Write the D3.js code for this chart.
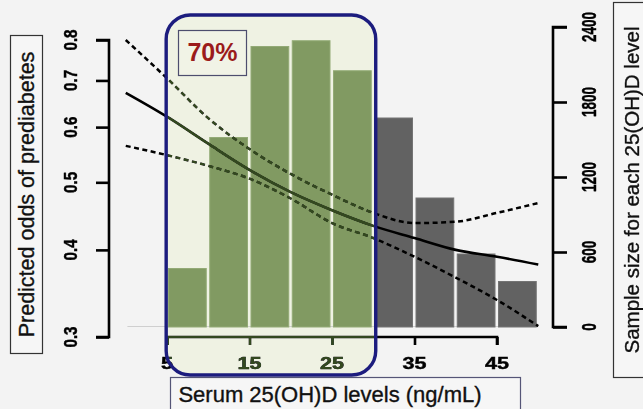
<!DOCTYPE html>
<html>
<head>
<meta charset="utf-8">
<script src="https://cdn.jsdelivr.net/npm/d3@7/dist/d3.min.js"></script>
<style>
  html, body { margin: 0; padding: 0; background: #f3f3f3; }
  svg { display: block; }
  text { font-family: "Liberation Sans", Arial, Helvetica, sans-serif; }
</style>
</head>
<body>
<svg id="chart" width="643" height="409"></svg>
<script>
// ---- data ----
const binStarts = [5, 10, 15, 20, 25, 30, 35, 40, 45];
const binWidth = 5;
const sampleSizes = [468, 1516, 2244, 2290, 2050, 1672, 1032, 584, 364];
const highlighted = [true, true, true, true, true, false, false, false, false];

const curveX = [0, 5, 10, 15, 20, 25, 30, 35, 40, 45, 50];
const fitOdds = [0.672, 0.621, 0.568, 0.521, 0.484, 0.456, 0.433, 0.416, 0.400, 0.391, 0.381];
const upperCI = [0.800, 0.705, 0.618, 0.558, 0.514, 0.480, 0.452, 0.437, 0.439, 0.452, 0.467];
const lowerCI = [0.564, 0.547, 0.528, 0.506, 0.474, 0.437, 0.416, 0.391, 0.365, 0.339, 0.311];

const xTicks = [5, 15, 25, 35, 45];
const leftTicks = [0.3, 0.4, 0.5, 0.6, 0.7, 0.8];
const rightTicks = [0, 600, 1200, 1800, 2400];

const leftTitle = "Predicted odds of prediabetes";
const rightTitle = "Sample size for each 25(OH)D level";
const xTitle = "Serum 25(OH)D levels (ng/mL)";
const highlightLabel = "70%";
const highlightRange = [4.9, 30.3];

// ---- scales ----
const svg = d3.select("#chart");
const x = d3.scaleLinear().domain([5, 45]).range([167, 497]);
const yL = d3.scaleLog().domain([0.3, 0.8]).range([337, 40]);
const yR = d3.scaleLinear().domain([0, 2400]).range([327, 27]);

// background
svg.append("rect").attr("width", 643).attr("height", 409).attr("fill", "#f3f3f3");

// highlight geometry
const hx0 = x(highlightRange[0]), hx1 = x(highlightRange[1]);
const hy0 = 15, hy1 = 375, hr = 24;

// cream underlay
svg.append("rect").attr("x", hx0).attr("y", hy0).attr("width", hx1 - hx0).attr("height", hy1 - hy0)
  .attr("rx", hr).attr("fill", "#eff2e3");

// faint baseline
svg.append("line").attr("x1", x(0.2)).attr("x2", x(50)).attr("y1", yR(0) - 0.5).attr("y2", yR(0) - 0.5)
  .attr("stroke", "#cfcfcf").attr("stroke-width", 1);

// bars
svg.append("g").selectAll("rect").data(binStarts).join("rect")
  .attr("x", d => x(d) + 1.5)
  .attr("width", d => x(d + binWidth) - x(d) - 3.5)
  .attr("y", (d, i) => yR(sampleSizes[i]))
  .attr("height", (d, i) => yR(0) - yR(sampleSizes[i]))
  .attr("fill", (d, i) => highlighted[i] ? "#819a62" : "#626262")
  .attr("stroke", (d, i) => highlighted[i] ? "#93aa76" : "#747474")
  .attr("stroke-width", 1);

// axes
const axisStroke = 2.6;
const gL = svg.append("g").attr("transform", "translate(109,0)")
  .call(d3.axisLeft(yL).tickValues(leftTicks).tickSize(13).tickFormat(""));
gL.selectAll("path,line").attr("stroke", "#000").attr("stroke-width", axisStroke);
gL.select(".domain").attr("d", `M-13,${yL(0.8)}H0V${yL(0.3)}H-13`);

const gR = svg.append("g").attr("transform", "translate(553,0)")
  .call(d3.axisRight(yR).tickValues(rightTicks).tickSize(14).tickFormat(""));
gR.selectAll("path,line").attr("stroke", "#000").attr("stroke-width", axisStroke);
gR.select(".domain").attr("d", `M14,${yR(2400)}H0V${yR(0)}H14`);

const gB = svg.append("g").attr("transform", "translate(0,337)")
  .call(d3.axisBottom(x).tickValues(xTicks).tickSize(8).tickFormat(""));
gB.selectAll("path,line").attr("stroke", "#000").attr("stroke-width", axisStroke);
gB.select(".domain").attr("d", `M${x(5)},8V0H${x(45)}V8`);

// tick labels
svg.append("g").selectAll("text").data(leftTicks).join("text")
  .attr("transform", d => `translate(71,${yL(d)}) rotate(-90) scale(0.95,1.1)`)
  .attr("text-anchor", "middle").attr("dominant-baseline", "central")
  .attr("font-size", 16).attr("font-weight", "bold").attr("fill", "#000")
  .attr("stroke", "#000").attr("stroke-width", 0.4)
  .text(d => d.toFixed(1));

svg.append("g").selectAll("text").data(rightTicks).join("text")
  .attr("transform", d => `translate(589,${yR(d)}) rotate(-90) scale(0.75,1.15)`)
  .attr("text-anchor", "middle").attr("dominant-baseline", "central")
  .attr("font-size", 18).attr("font-weight", "bold").attr("fill", "#000")
  .attr("stroke", "#000").attr("stroke-width", 0.4)
  .text(d => d);

svg.append("g").selectAll("text").data(xTicks).join("text")
  .attr("transform", d => `translate(${x(d)},369) scale(1.35,1)`)
  .attr("text-anchor", "middle")
  .attr("font-size", 16).attr("font-weight", "bold").attr("fill", "#000")
  .attr("stroke", "#000").attr("stroke-width", 0.4)
  .text(d => d);

// curves
const line = d3.line().x((d, i) => x(curveX[i])).y(d => yL(d)).curve(d3.curveMonotoneX);
const gC = svg.append("g").attr("fill", "none").attr("stroke", "#000");
gC.append("path").attr("d", line(fitOdds)).attr("stroke-width", 2.6);
gC.append("path").attr("d", line(upperCI)).attr("stroke-width", 2.5).attr("stroke-dasharray", "5,3.5");
gC.append("path").attr("d", line(lowerCI)).attr("stroke-width", 2.5).attr("stroke-dasharray", "5,3.5");

// tint overlay (dark becomes dark green inside highlight)
svg.append("rect").attr("x", hx0).attr("y", hy0).attr("width", hx1 - hx0).attr("height", hy1 - hy0)
  .attr("rx", hr).attr("fill", "#33481f").style("mix-blend-mode", "lighten");

// highlight outline
svg.append("rect").attr("x", hx0).attr("y", hy0).attr("width", hx1 - hx0).attr("height", hy1 - hy0)
  .attr("rx", hr).attr("fill", "none").attr("stroke", "#1c1c7e").attr("stroke-width", 3.4);

// 70% label box
svg.append("rect").attr("x", 178.5).attr("y", 30.5).attr("width", 68).attr("height", 45)
  .attr("fill", "#f1f3e6").attr("stroke", "#4d4d6e").attr("stroke-width", 1.2);
svg.append("text").attr("x", 212.5).attr("y", 61).attr("text-anchor", "middle")
  .attr("font-size", 25).attr("font-weight", "bold").attr("fill", "#9b1b1b")
  .text(highlightLabel);

// axis title boxes
const titleStroke = 0.35;
svg.append("rect").attr("x", 10.5).attr("y", 35.5).attr("width", 32).attr("height", 318)
  .attr("fill", "#f6f6f6").attr("stroke", "#333").attr("stroke-width", 1.2);
svg.append("text").attr("transform", "translate(27,194.5) rotate(-90)")
  .attr("text-anchor", "middle").attr("dominant-baseline", "central")
  .attr("font-size", 21.5).attr("fill", "#111").attr("stroke", "#111").attr("stroke-width", titleStroke)
  .text(leftTitle);

svg.append("rect").attr("x", 613.5).attr("y", 2.5).attr("width", 40).attr("height", 375)
  .attr("fill", "#f6f6f6").attr("stroke", "#333").attr("stroke-width", 1.2);
svg.append("text").attr("transform", "translate(631,190) rotate(-90)")
  .attr("text-anchor", "middle").attr("dominant-baseline", "central")
  .attr("font-size", 20.5).attr("fill", "#111").attr("stroke", "#111").attr("stroke-width", titleStroke)
  .text(rightTitle);

svg.append("rect").attr("x", 170.5).attr("y", 377.5).attr("width", 350).attr("height", 40)
  .attr("fill", "#f6f6f6").attr("stroke", "#555577").attr("stroke-width", 1.2);
svg.append("text").attr("x", 330).attr("y", 402).attr("text-anchor", "middle")
  .attr("font-size", 22).attr("fill", "#111").attr("stroke", "#111").attr("stroke-width", titleStroke)
  .text(xTitle);
</script>
</body>
</html>
